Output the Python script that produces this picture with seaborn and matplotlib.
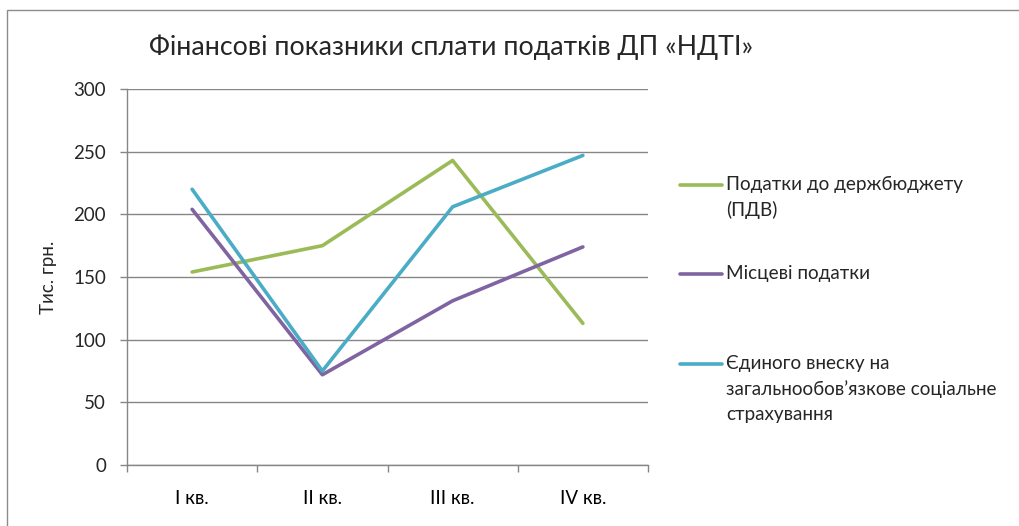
import pandas as pd
import matplotlib.pyplot as plt
import seaborn as sns
from matplotlib.lines import Line2D
from matplotlib.patches import Rectangle

# Data
quarters = ['I кв.', 'II кв.', 'III кв.', 'IV кв.']
series_names = ['Податки до держбюджету\n(ПДВ)',
                'Місцеві податки',
                'Єдиного внеску на\nзагальнообов\u2019язкове соціальне\nстрахування']
vat_budget = [154, 175, 243, 113]
local_taxes = [204, 72, 131, 174]
social_contrib = [220, 75, 206, 247]
colors = ['#9BBB59', '#8064A2', '#4BACC6']

sns.set_theme(style="white")
plt.rcParams['font.family'] = ['Lato', 'DejaVu Sans']
grid_col = '#868686'

df = pd.DataFrame({
    'quarter': quarters * 3,
    'value': vat_budget + local_taxes + social_contrib,
    'series': [series_names[0]] * 4 + [series_names[1]] * 4 + [series_names[2]] * 4,
})

W, H = 1019, 526
fig = plt.figure(figsize=(W / 100, H / 100), dpi=100)
ax = fig.add_axes([127 / W, 1 - 465 / H, 521 / W, 376 / H])

sns.lineplot(data=df, x='quarter', y='value', hue='series', hue_order=series_names,
             palette=colors, linewidth=2.6, sort=False, legend=False, ax=ax)

ax.set_xlim(-0.5, 3.5)
ax.set_ylim(0, 300)
ax.set_yticks(range(0, 301, 50))
ax.set_xticks(range(4))
ax.set_xticklabels(quarters)
ax.set_xticks([i - 0.5 for i in range(5)], minor=True)
ax.tick_params(axis='x', which='major', length=0, pad=18, labelsize=13.5, colors='black')
ax.tick_params(axis='x', which='minor', length=5, width=1, color=grid_col, direction='out', bottom=True)
ax.tick_params(axis='y', length=5, width=1, color=grid_col, direction='out', left=True,
               labelsize=13.5, pad=10)
ax.yaxis.grid(True, color=grid_col, linewidth=1)
ax.set_axisbelow(True)
for s in ['top', 'right']:
    ax.spines[s].set_visible(False)
for s in ['left', 'bottom']:
    ax.spines[s].set_color(grid_col)
    ax.spines[s].set_linewidth(1)
ax.set_xlabel('')
ax.set_ylabel('Тис. грн.', fontsize=13.5, labelpad=12)

fig.text(451 / W, 1 - 47 / H, 'Фінансові показники сплати податків ДП «НДТІ»',
         ha='center', va='center', fontsize=19.3)

# legend drawn by hand, Excel style (handle aligned with first text line)
leg_y = [185, 274, 364]
for name, col, y in zip(series_names, colors, leg_y):
    fig.add_artist(Line2D([680 / W, 722 / W], [1 - y / H, 1 - y / H], color=col,
                          linewidth=2.6, solid_capstyle='round', transform=fig.transFigure))
    fig.text(726 / W, 1 - (y - 9) / H, name, ha='left', va='top', fontsize=13.6,
             linespacing=1.55)

# chart frame
fig.add_artist(Rectangle((7 / W, -0.1), 1.2, 1.1 - 10 / H, fill=False,
                         edgecolor='#8c8c8c', linewidth=1, transform=fig.transFigure))

fig.savefig('out.png', dpi=100)
